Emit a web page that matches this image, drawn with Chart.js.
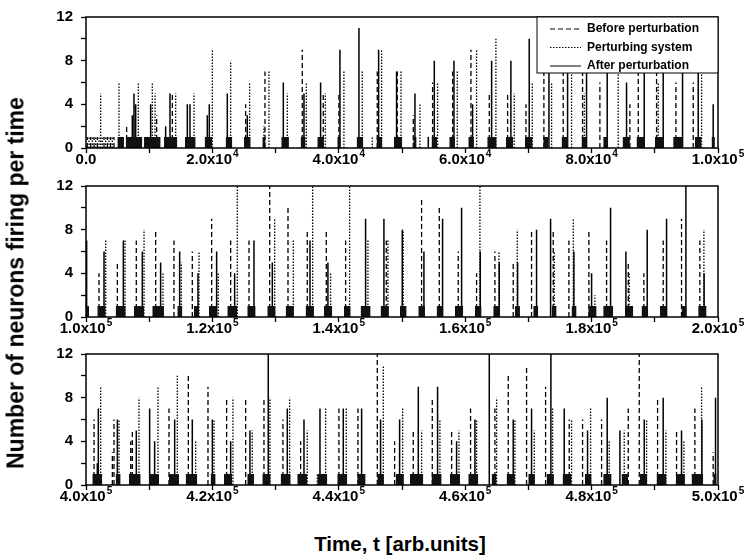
<!DOCTYPE html>
<html lang="en">
<head>
<meta charset="UTF-8">
<title>Neurons firing per time</title>
<script src="https://cdn.jsdelivr.net/npm/chart.js"></script>
<style>
    body {
        margin: 0;
        background: #fff;
        width: 754px;
        height: 559px;
        position: relative;
        overflow: hidden;
        font-family: Arial, 'Liberation Sans', sans-serif;
    }
    canvas { position: absolute; left: 0; }
    #ytitle {
        position: absolute; left: 16px; top: 283px;
        transform: translate(-50%, -50%) rotate(-90deg);
        font-weight: bold; font-size: 23px; white-space: nowrap;
    }
    #xtitle {
        position: absolute; left: 400px; top: 544px;
        transform: translate(-50%, -50%);
        font-weight: bold; font-size: 20.5px; white-space: nowrap;
    }
</style>
</head>
<body>
<canvas id="p1" width="754" height="176" style="top:0px"></canvas>
<canvas id="p2" width="754" height="176" style="top:169px"></canvas>
<canvas id="p3" width="754" height="176" style="top:337px"></canvas>
<div id="ytitle">Number of neurons firing per time</div>
<div id="xtitle">Time, t [arb.units]</div>

<script>
// spikes are [time, neurons firing]; blocks are [start, end] of single-neuron activity
const before1 = [[200,1],[740,1],[1270,1],[1790,1],[2850,1],[3380,1],[3900,1],[4430,1],
    [6430,2],[11180,3],[13660,5],[25260,4],[28320,7],[34220,9],[37540,5],[40020,5],[46080,7],[49250,7],
    [51780,3],[54840,6],[58010,7],[60910,9],[63810,5],[66710,5],[69610,4],[72450,8],[75510,9],[78570,9],
    [81310,6],[86060,4],[87380,8],[90280,9],[93340,6],[96080,6]];
const perturb1 = [[480,1],[1000,1],[1530,1],[2060,1],[2580,1],[3110,1],[3640,1],[4170,1],
    [2320,5],[5220,6],[8280,6],[10490,6],[10920,5],[14190,5],[17090,5],[19990,9],[22890,8],[25890,6],
    [28160,2],[28950,7],[31850,5],[34860,6],[37860,5],[40810,7],[43710,7],[45300,1],[46770,9],[49840,7],
    [52840,4],[55630,6],[58750,7],[61800,9],[64860,10],[67760,5],[70610,6],[73670,6],[76830,7],[78840,5],
    [84210,8],[90540,6],[97400,8]];
const after1 = [[7330,3],[7590,5],[7860,4],[10230,4],[12600,2],[13290,5],[16030,4],[16450,4],[19190,3],
    [19510,4],[22360,5],[25520,3],[31220,6],[34490,5],[37120,6],[40180,9],[43190,11],[46300,9],[49140,7],
    [52050,5],[54160,1],[55110,8],[58220,8],[61170,4],[64180,8],[67230,8],[70130,10],[73250,9],[76200,8],
    [79200,9],[82470,9],[85530,6],[88330,10],[91330,8],[94390,9],[96870,7],[99240,4]];
const blocks1 = [[4960,6010],[6280,8910],[9180,11810],[12340,14450],[15660,17350],[18770,19990],
    [22090,23150],[24990,26050],[27900,28420],[30900,32110],[33960,34750],[36600,37650],[39760,40290],
    [42820,43870],[45980,46880],[48720,50040],[51780,52310],[54680,55580],[57480,58380],[60490,61380],
    [63490,64970],[66440,67600],[69450,70660],[72350,73140],[75250,76300],[78410,79200],[81840,82630],
    [84900,86060],[87110,88430],[90010,91330],[92910,94500],[96340,97400],[98980,99510]];

const before2 = [[102060,4],[104960,5],[107960,7],[111020,8],[113920,7],[116820,6],[119880,9],[122890,7],
    [125790,7],[129060,12.5],[131960,10],[135010,8],[138020,8],[141080,7],[147510,7],[153100,11],[155900,10],
    [158900,6],[161800,4],[164700,6],[167600,5],[170500,8],[173930,8],[176410,7],[179570,8],[182370,7],
    [185800,5],[188270,4],[191330,7],[194230,9],[197130,7]];
const perturb2 = [[103110,7],[106170,7],[109180,8],[112180,4],[115080,5],[117880,6],[120930,4],[123940,12.5],
    [129850,9],[132800,7],[135860,12.5],[138700,4],[141710,12.5],[144610,7],[147770,7],[150200,8],
    [162330,12.5],[165340,6],[168240,8],[174090,6],[177100,9],[180520,2],[185950,4],[197770,8]];
const after2 = [[100100,7],[102850,6],[105910,7],[108910,6],[111810,5],[114820,6],[117720,4],[120670,6],
    [123520,4],[126580,7],[129480,5],[135440,7],[138280,5],[144240,9],[147140,9],[150040,8],[153470,6],
    [156420,9],[159430,10],[162380,6],[165390,5],[168290,5],[171290,8],[173510,9],[177200,6],[180000,4],
    [183000,10],[185430,6],[188800,8],[191860,9],[194920,12.5],[197800,4]];
const blocks2 = [[100000,100480],[101790,103110],[104690,106280],[107590,109180],[110490,112340],
    [114450,115240],[117090,117880],[119460,120780],[122360,123940],[125520,126840],[128690,130000],
    [131590,132900],[134750,136070],[137650,138970],[140810,141870],[143450,145030],[146610,147930],
    [149680,150730],[152580,153630],[155480,156530],[158380,159690],[161540,162590],[164440,165490],
    [167870,168660],[170770,171560],[173670,174460],[176830,177620],[179470,180790],[181840,183420],
    [185270,186590],[187900,188960],[190800,191860],[194230,195020],[196870,198190]];

const before3 = [[401270,6],[404170,3],[404430,6],[407070,4],[407330,5],[413130,7],[416190,10],[419300,9],
    [422250,8],[425260,8],[428160,8],[431160,6],[433960,4],[440020,7],[443030,7],[446090,12.5],[448830,4],
    [451780,5],[454790,8],[457850,5],[460850,7],[464700,7],[466810,10],[469710,11],[472720,9],[476460,6],
    [478570,6],[481580,6],[485800,7],[487540,12.5],[490440,8],[493440,5],[496340,7],[499240,3]];
const perturb3 = [[402320,9],[405220,6],[408380,8],[411390,9],[414450,10],[417350,4],[420250,6],[423250,8],
    [426310,5],[429110,8],[432220,8],[435010,5],[436600,1],[437910,7],[441180,7],[447040,11],[450100,7],
    [453100,5],[456000,6],[459010,5],[461800,6],[464970,8],[467870,6],[470930,5],[473830,7],[476830,6],
    [479840,7],[482790,4],[485160,5],[488700,6],[491750,5],[494600,4],[497400,9]];
const after3 = [[401790,2],[401950,7],[404960,6],[407960,5],[410070,7],[410860,4],[414030,6],[416820,6],
    [419990,6],[422890,4],[425940,5],[428840,12.5],[431850,7],[434490,6],[437020,7],[440710,7],[443610,7],
    [446610,6],[449620,6],[452580,9],[455630,9],[458640,4],[461540,6],[463810,12.5],[467600,6],[470500,7],
    [473560,12.5],[475670,7],[479360,5],[482470,8],[484480,5],[488330,6],[491330,8],[494230,5],[497450,6],
    [499610,8]];
const blocks3 = [[401000,402580],[404690,405480],[406800,408650],[409970,411550],[413130,414710],
    [415770,417610],[419720,420510],[421830,423150],[425520,426580],[427900,429210],[430800,432380],
    [433430,435010],[436600,438180],[439760,441340],[442920,444240],[446090,447140],[448990,450300],
    [451260,453370],[454680,456270],[457590,459170],[460490,462070],[464180,464970],[466550,467870],
    [469980,471030],[472880,474040],[475410,476830],[478940,480000],[481840,483160],[484740,485800],
    [487640,488800],[490280,491860],[493340,494760],[495810,497660],[499240,499770]];

const seriesNames = ['Before perturbation', 'Perturbing system', 'After perturbation'];
const dashes = [[5, 3], [1.5, 1.5], []];
const widths = [1.3, 1.3, 1.5];
const FONT = 'Arial, "Liberation Sans", sans-serif';

function spikes(list) {
    const pts = [];
    list.slice().sort((a, b) => a[0] - b[0]).forEach(([t, h]) => {
        pts.push({x: t, y: 0}, {x: t, y: h}, {x: t, y: null});
    });
    return pts;
}
function blocks(list) {
    const pts = [];
    list.forEach(([s, e]) => {
        pts.push({x: s, y: 0}, {x: s, y: 1}, {x: e, y: 1}, {x: e, y: 0}, {x: e, y: null});
    });
    return pts;
}

// box around the plot area
const frame = {
    id: 'frame',
    afterDatasetsDraw(chart) {
        const a = chart.chartArea, ctx = chart.ctx;
        ctx.save();
        ctx.strokeStyle = '#000';
        ctx.lineWidth = 1.5;
        ctx.strokeRect(a.left, a.top, a.right - a.left, a.bottom - a.top);
        ctx.restore();
    }
};

// x tick labels like 2.0x10^4 with a raised exponent
const xLabels = {
    id: 'xLabels',
    afterDraw(chart) {
        const sx = chart.scales.x, ctx = chart.ctx;
        const y = chart.chartArea.bottom + 12;
        ctx.save();
        ctx.fillStyle = '#000';
        ctx.textBaseline = 'middle';
        ctx.textAlign = 'left';
        sx.ticks.forEach(tk => {
            const v = tk.value;
            if (Math.round((v - sx.min) / 1e4) % 2 !== 0) return;
            const px = sx.getPixelForValue(v);
            let main = '0.0', sup = '';
            if (v !== 0) {
                const e = Math.floor(Math.log10(v) + 1e-9);
                main = (v / Math.pow(10, e)).toFixed(1) + 'x10';
                sup = String(e);
            }
            ctx.font = 'bold 15px ' + FONT;
            const w1 = ctx.measureText(main).width;
            ctx.font = 'bold 10px ' + FONT;
            const w2 = sup ? ctx.measureText(sup).width + 1 : 0;
            const x0 = px - (w1 + w2) / 2;
            ctx.font = 'bold 15px ' + FONT;
            ctx.fillText(main, x0, y);
            if (sup) {
                ctx.font = 'bold 10px ' + FONT;
                ctx.fillText(sup, x0 + w1 + 1, y - 6);
            }
        });
        ctx.restore();
    }
};

const legendBox = {
    id: 'legendBox',
    afterDatasetsDraw(chart) {
        const a = chart.chartArea, ctx = chart.ctx;
        const left = 537, top = a.top, w = a.right - left, h = 56;
        ctx.save();
        ctx.fillStyle = '#fff';
        ctx.fillRect(left, top, w, h);
        ctx.strokeStyle = '#000';
        ctx.lineWidth = 1;
        ctx.strokeRect(left, top, w, h);
        ctx.font = 'bold 12px ' + FONT;
        ctx.fillStyle = '#000';
        ctx.textBaseline = 'middle';
        seriesNames.forEach((name, i) => {
            const y = top + 12 + i * 18.5;
            ctx.setLineDash(dashes[i]);
            ctx.beginPath();
            ctx.moveTo(550, y);
            ctx.lineTo(581, y);
            ctx.stroke();
            ctx.setLineDash([]);
            ctx.fillText(name, 587, y);
        });
        ctx.restore();
    }
};

function makePanel(id, xMin, xMax, before, perturb, after, base, withLegend) {
    const tickGrid = {drawOnChartArea: false, drawTicks: true, tickLength: 5, tickColor: '#000', tickWidth: 1.3};
    const lineSet = (data, i) => ({
        data: spikes(data), borderColor: '#000', borderWidth: widths[i], borderDash: dashes[i],
        pointRadius: 0, spanGaps: false, fill: false, tension: 0
    });
    return new Chart(document.getElementById(id), {
        type: 'line',
        data: {
            datasets: [
                {data: blocks(base), borderWidth: 0, borderColor: 'rgba(0,0,0,0)', backgroundColor: '#111',
                 pointRadius: 0, spanGaps: false, fill: 'origin'},
                lineSet(before, 0), lineSet(perturb, 1), lineSet(after, 2)
            ]
        },
        options: {
            responsive: false,
            animation: false,
            layout: {padding: {top: 12, right: 36, left: 0, bottom: 0}},
            plugins: {legend: {display: false}, tooltip: {enabled: false}},
            scales: {
                x: {
                    type: 'linear', min: xMin, max: xMax,
                    ticks: {stepSize: 1e4, autoSkip: false, maxRotation: 0, callback: () => ''},
                    grid: tickGrid, border: {display: false},
                    afterFit: s => { s.height = 28; }
                },
                y: {
                    min: 0, max: 12,
                    ticks: {stepSize: 2, autoSkip: false, padding: 8, color: '#000',
                            font: {family: FONT, size: 15, weight: 'bold'},
                            callback: v => (v % 4 === 0 ? v : '')},
                    grid: tickGrid, border: {display: false},
                    afterFit: s => { s.width = 86; }
                }
            }
        },
        plugins: withLegend ? [frame, xLabels, legendBox] : [frame, xLabels]
    });
}

makePanel('p1', 0, 1e5, before1, perturb1, after1, blocks1, true);
makePanel('p2', 1e5, 2e5, before2, perturb2, after2, blocks2, false);
makePanel('p3', 4e5, 5e5, before3, perturb3, after3, blocks3, false);
</script>
</body>
</html>
